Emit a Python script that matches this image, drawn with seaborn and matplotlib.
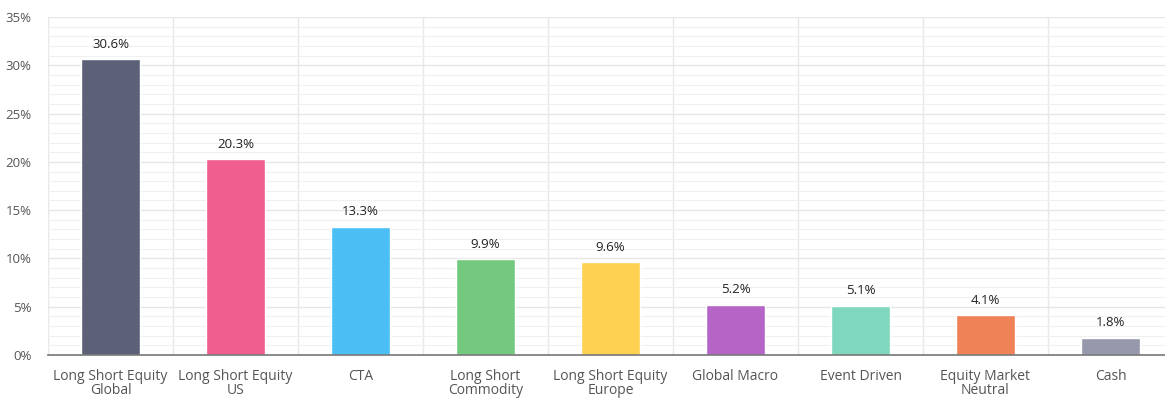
import matplotlib
matplotlib.use("Agg")
import matplotlib.pyplot as plt
import seaborn as sns
import pandas as pd
from matplotlib.ticker import MultipleLocator, FuncFormatter

# dados
categorias = ["Long Short Equity\nGlobal", "Long Short Equity\nUS", "CTA",
              "Long Short\nCommodity", "Long Short Equity\nEurope", "Global Macro",
              "Event Driven", "Equity Market\nNeutral", "Cash"]
valores = [30.6, 20.3, 13.3, 9.9, 9.6, 5.2, 5.1, 4.1, 1.8]
cores = ["#5d6178", "#ef5e8e", "#4bbff4", "#75c97f", "#fed152",
         "#b565c6", "#7fd8bd", "#ef8257", "#9699ab"]

df = pd.DataFrame({"Categoria": categorias, "Valor": valores})

sns.set_theme(style="white")
plt.rcParams["font.family"] = ["Open Sans", "DejaVu Sans"]

fig = plt.figure(figsize=(11.65, 4), dpi=100)
ax = fig.add_axes([48 / 1165, 45 / 400, 1125 / 1165, 338 / 400])

sns.barplot(data=df, x="Categoria", y="Valor", hue="Categoria",
            palette=cores, saturation=1, legend=False, width=0.47, ax=ax, zorder=3)

# grade horizontal (maior e menor) e vertical entre categorias
ax.set_ylim(0, 35)
ax.set_xlim(-0.5, len(categorias) - 0.5)
ax.yaxis.set_major_locator(MultipleLocator(5))
ax.yaxis.set_minor_locator(MultipleLocator(1))
ax.yaxis.set_major_formatter(FuncFormatter(lambda v, p: f"{v:.0f}%"))
ax.grid(axis="y", which="major", color="#e6e6e6", linewidth=1, zorder=0)
ax.grid(axis="y", which="minor", color="#f0f0f0", linewidth=0.8, zorder=0)
for i in range(len(categorias) + 1):
    ax.axvline(i - 0.5, color="#e8e8e8", linewidth=1, zorder=0)

for s in ["top", "right", "left"]:
    ax.spines[s].set_visible(False)
ax.spines["bottom"].set_color("#777777")
ax.spines["bottom"].set_linewidth(1.2)
ax.spines["bottom"].set_zorder(4)

# rótulos de valor em cima das barras
for i, v in enumerate(valores):
    ax.annotate(f"{v}%", (i, v), xytext=(0, 6), textcoords="offset points",
                ha="center", va="bottom", fontsize=9.5, color="#222222")

ax.set_xlabel("")
ax.set_ylabel("")
ax.tick_params(axis="x", length=0, pad=10, labelsize=10, labelcolor="#555555")
ax.tick_params(axis="y", which="both", length=0, pad=12, labelsize=9.5, labelcolor="#555555")
for t in ax.get_xticklabels():
    t.set_linespacing(0.95)

fig.savefig("out.png", dpi=100)
